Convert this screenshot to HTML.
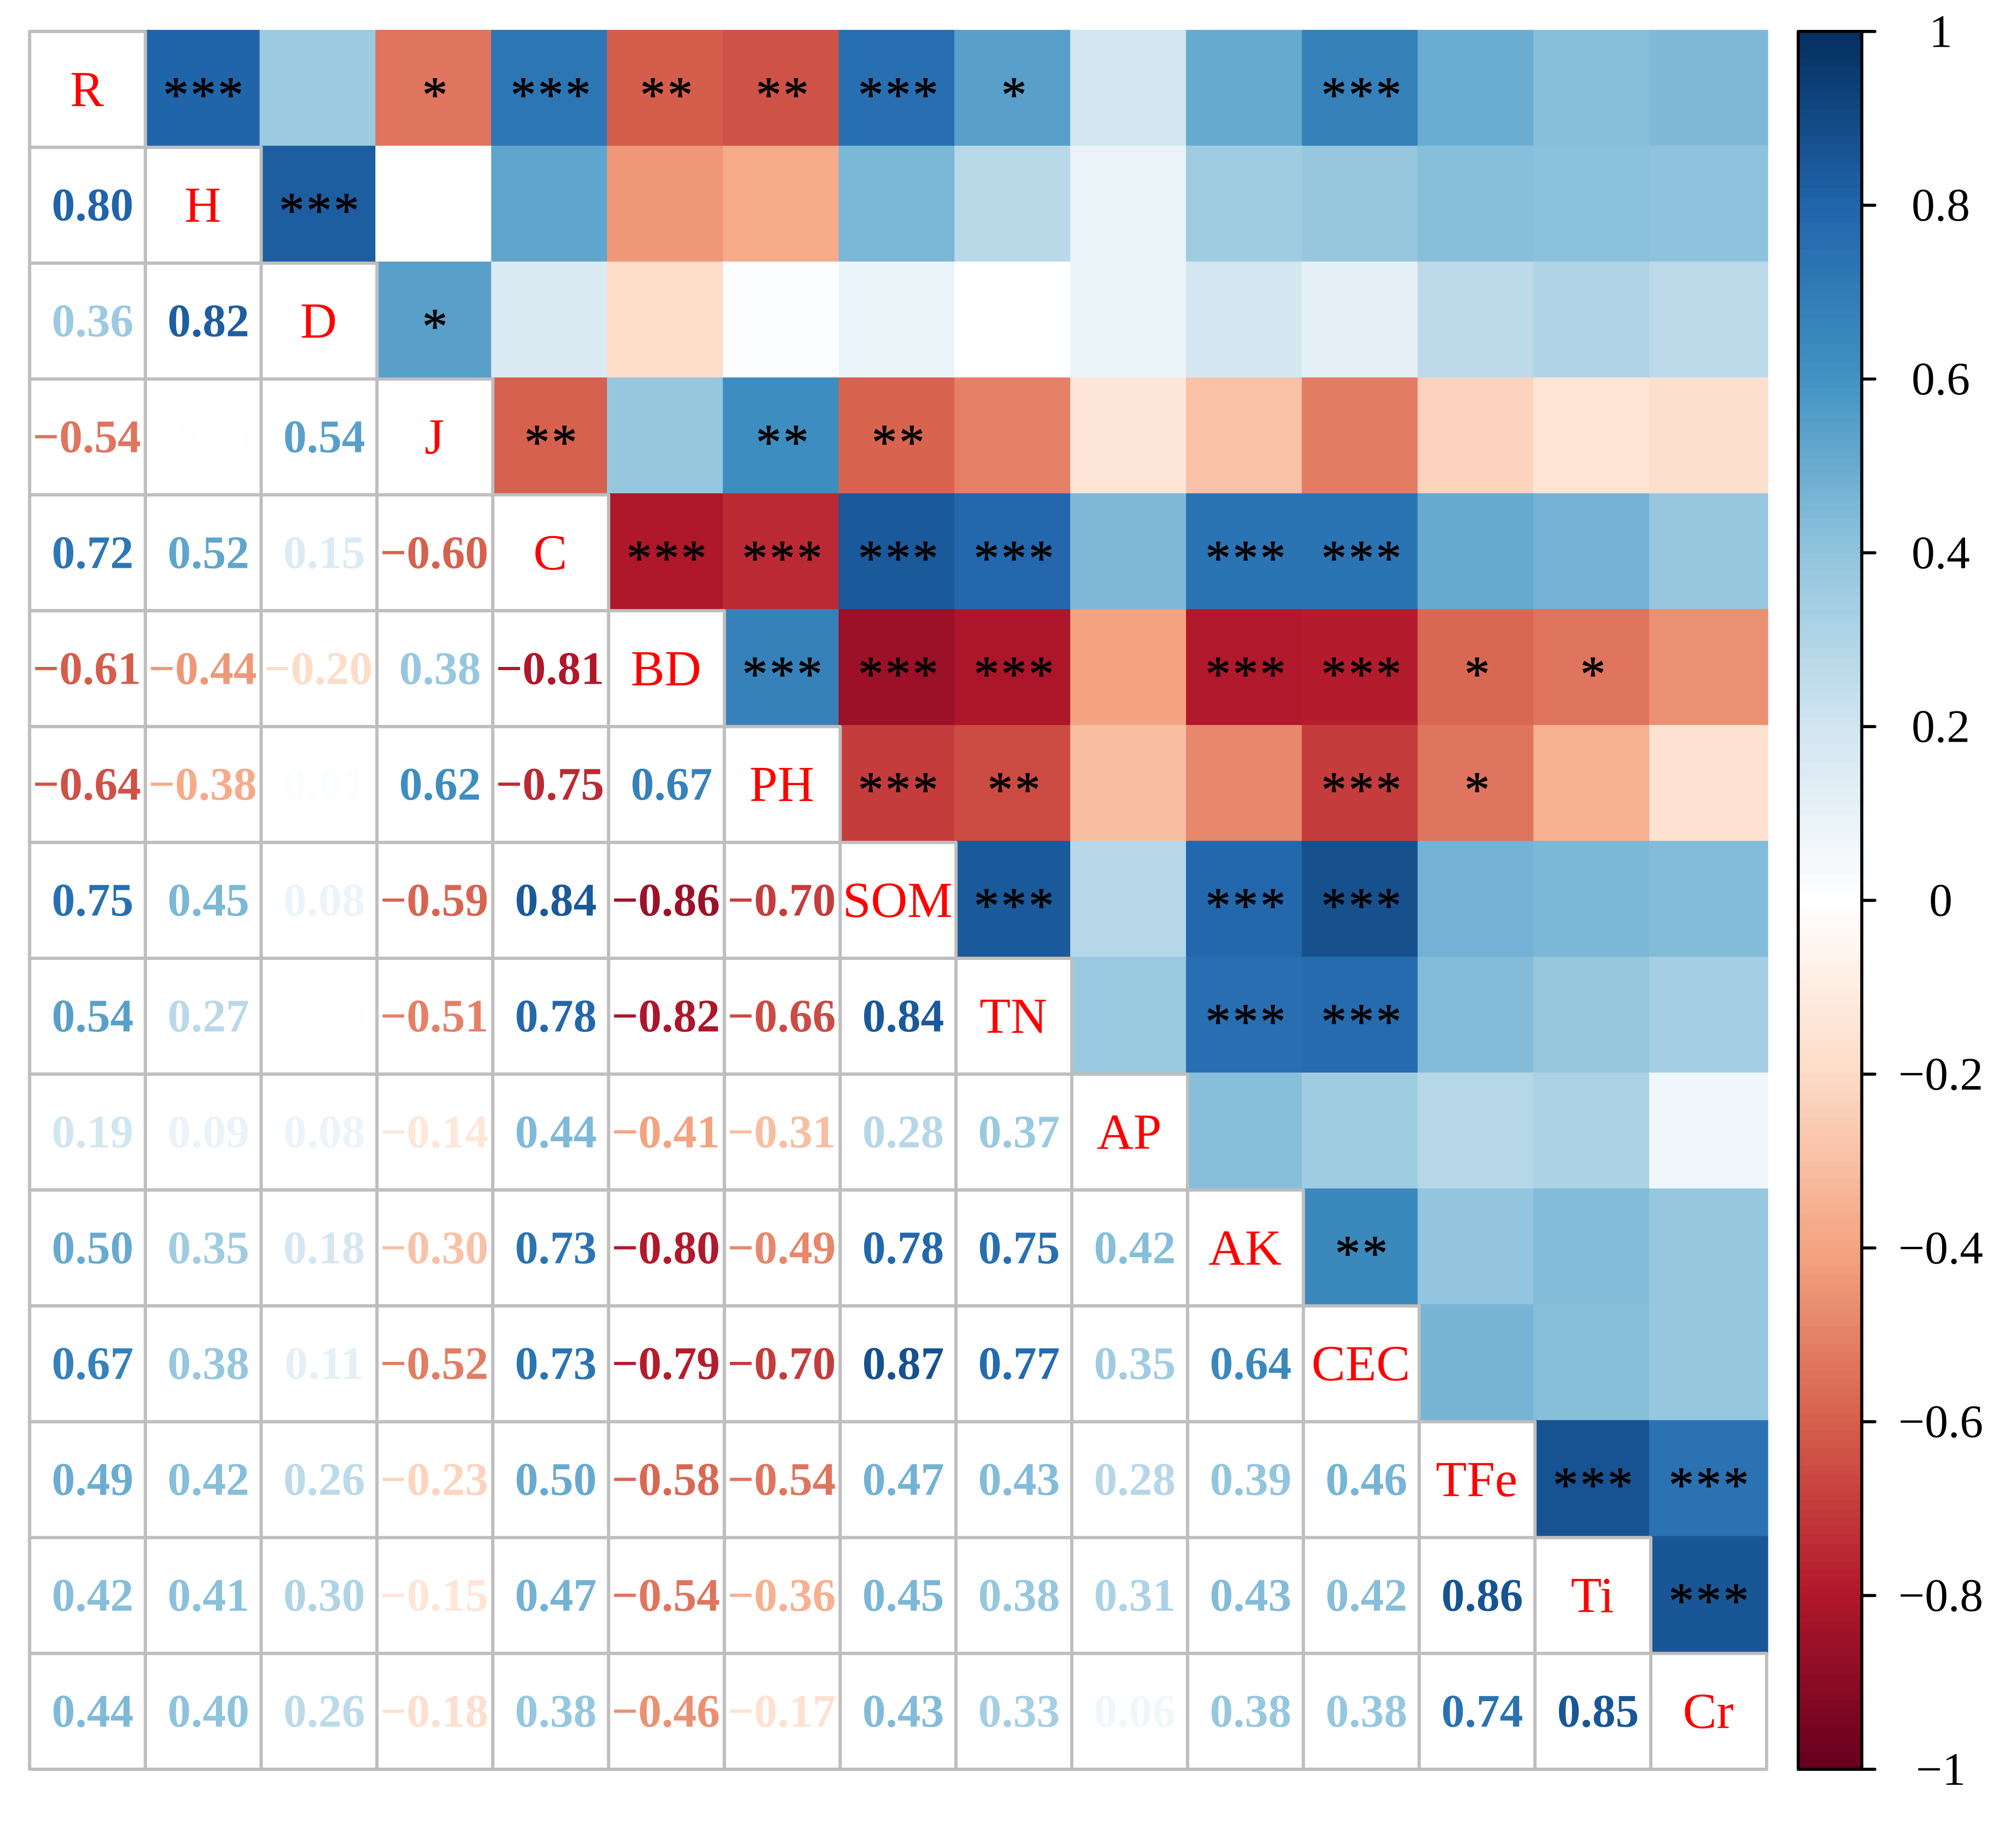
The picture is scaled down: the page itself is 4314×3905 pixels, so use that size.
<!DOCTYPE html>
<html lang="en">
<head>
<meta charset="utf-8">
<title>Correlation matrix</title>
<style>
html,body{margin:0;padding:0;background:#fff;}
svg{display:block;}
text{font-family:"Liberation Serif",serif;}
</style>
</head>
<body>
<svg id="chart" xmlns="http://www.w3.org/2000/svg" width="4314" height="3905" viewBox="0 0 4314 3905">
<rect x="0" y="0" width="4314" height="3905" fill="#ffffff"/>
<g id="fills"></g>
<g id="grid"></g>
<g id="stars"></g>
<g id="numbers"></g>
<g id="diag"></g>
<g id="legend"></g>
</svg>
<script>
const variables = ["R","H","D","J","C","BD","PH","SOM","TN","AP","AK","CEC","TFe","Ti","Cr"];
const corrRows = [
  [],
  [0.80],
  [0.36,0.82],
  [-0.54,-0.01,0.54],
  [0.72,0.52,0.15,-0.60],
  [-0.61,-0.44,-0.20,0.38,-0.81],
  [-0.64,-0.38,0.01,0.62,-0.75,0.67],
  [0.75,0.45,0.08,-0.59,0.84,-0.86,-0.70],
  [0.54,0.27,-0.01,-0.51,0.78,-0.82,-0.66,0.84],
  [0.19,0.09,0.08,-0.14,0.44,-0.41,-0.31,0.28,0.37],
  [0.50,0.35,0.18,-0.30,0.73,-0.80,-0.49,0.78,0.75,0.42],
  [0.67,0.38,0.11,-0.52,0.73,-0.79,-0.70,0.87,0.77,0.35,0.64],
  [0.49,0.42,0.26,-0.23,0.50,-0.58,-0.54,0.47,0.43,0.28,0.39,0.46],
  [0.42,0.41,0.30,-0.15,0.47,-0.54,-0.36,0.45,0.38,0.31,0.43,0.42,0.86],
  [0.44,0.40,0.26,-0.18,0.38,-0.46,-0.17,0.43,0.33,0.06,0.38,0.38,0.74,0.85]
];
const starRows = [
  [],
  [3],
  [0,3],
  [1,0,1],
  [3,0,0,2],
  [2,0,0,0,3],
  [2,0,0,2,3,3],
  [3,0,0,2,3,3,3],
  [1,0,0,0,3,3,2,3],
  [0,0,0,0,0,0,0,0,0],
  [0,0,0,0,3,3,0,3,3,0],
  [3,0,0,0,3,3,3,3,3,0,2],
  [0,0,0,0,0,1,1,0,0,0,0,0],
  [0,0,0,0,0,1,0,0,0,0,0,0,3],
  [0,0,0,0,0,0,0,0,0,0,0,0,3,3]
];
const legendTicks = [1,0.8,0.6,0.4,0.2,0,-0.2,-0.4,-0.6,-0.8,-1];
const paletteStops = ["#67001F","#B2182B","#D6604D","#F4A582","#FDDBC7","#FFFFFF","#D1E5F0","#92C5DE","#4393C3","#2166AC","#053061"];
const legendBandCount = 200;

const SVGNS = "http://www.w3.org/2000/svg";
const gridLeft = 63.3, gridTop = 67.3, cellW = 247.8, cellH = 247.9, overlap = 3.4;
const barLeft = 3848, barRight = 3984, barTop = 67.3, barBottom = 3785.8;
function xAt(i){ return gridLeft + i * cellW; }
function yAt(j){ return gridTop + j * cellH; }
function legendY(v){ return barTop + (1 - v) / 2 * (barBottom - barTop); }
function hexRgb(h){ return [parseInt(h.slice(1,3),16),parseInt(h.slice(3,5),16),parseInt(h.slice(5,7),16)]; }
function rampAt(t){
  const p = t * (paletteStops.length - 1);
  const k = Math.min(Math.floor(p), paletteStops.length - 2);
  const f = p - k;
  const a = hexRgb(paletteStops[k]), b = hexRgb(paletteStops[k + 1]);
  return "rgb(" + a.map(function(c, n){ return Math.round(c + (b[n] - c) * f); }).join(",") + ")";
}
function colorAt(v){
  const idx = Math.max(0, Math.min(legendBandCount - 1, Math.floor((v + 1) / 2 * legendBandCount + 1e-9)));
  return rampAt(idx / (legendBandCount - 1));
}
function make(tag, attrs, parent){
  const el = document.createElementNS(SVGNS, tag);
  for (const k in attrs) el.setAttribute(k, attrs[k]);
  parent.appendChild(el);
  return el;
}
const fillsG = document.getElementById("fills");
const gridG = document.getElementById("grid");
const starsG = document.getElementById("stars");
const numbersG = document.getElementById("numbers");
const diagG = document.getElementById("diag");
const legendG = document.getElementById("legend");
const n = variables.length;

// upper triangle fills, drawn in row order so later cells overlap earlier ones
for (let row = 0; row < n; row++) {
  for (let col = row + 1; col < n; col++) {
    const v = corrRows[col][row];
    const r = make("rect", {
      x: xAt(col) - overlap, y: yAt(row) - overlap,
      width: cellW + 2 * overlap, height: cellH + 2 * overlap,
      fill: colorAt(v)
    }, fillsG);
    
    
  }
}
// lower triangle + diagonal white cells
for (let row = 0; row < n; row++) {
  for (let col = 0; col <= row; col++) {
    const r = make("rect", {
      x: xAt(col), y: yAt(row), width: cellW, height: cellH,
      fill: "#ffffff", stroke: "#BEBEBE", "stroke-width": 7, "stroke-linejoin": "round"
    }, gridG);
    
    
  }
}
// stars
for (let row = 0; row < n; row++) {
  for (let col = row + 1; col < n; col++) {
    const s = starRows[col][row];
    if (!s) continue;
    const t = make("text", {
      x: xAt(col) + cellW / 2 + 2.3, y: yAt(row) + cellH / 2 + 47,
      "text-anchor": "middle", "font-size": 108, "letter-spacing": 4.6,
      fill: "#000000", stroke: "#000000", "stroke-width": 1.2
    }, starsG);
    
    
    t.textContent = "*".repeat(s);
  }
}
// numbers
for (let row = 1; row < n; row++) {
  for (let col = 0; col < row; col++) {
    const v = corrRows[row][col];
    const label = (v < 0 ? "\u2212" : "") + Math.abs(v).toFixed(2);
    const t = make("text", {
      x: xAt(col) + cellW / 2 + (v < 0 ? -1.5 : 11),
      y: yAt(row) + cellH / 2 + 32.5,
      "text-anchor": "middle", "font-size": 100, "font-weight": "bold", fill: colorAt(v)
    }, numbersG);
    
    
    t.textContent = label;
  }
}
// diagonal labels
for (let i = 0; i < n; i++) {
  const t = make("text", {
    x: xAt(i) + cellW / 2 - 1, y: yAt(i) + cellH / 2 + 35.5,
    "text-anchor": "middle", "font-size": 108.5, fill: "#FF0000"
  }, diagG);
  
  
  t.textContent = variables[i];
}
// legend bands
const bandH = (barBottom - barTop) / legendBandCount;
for (let b = 0; b < legendBandCount; b++) {
  const r = make("rect", {
    x: barLeft, y: barBottom - (b + 1) * bandH,
    width: barRight - barLeft, height: bandH + 0.6,
    fill: rampAt(b / (legendBandCount - 1))
  }, legendG);
  
  
}
const frame = make("rect", {
  x: barLeft, y: barTop, width: barRight - barLeft, height: barBottom - barTop,
  fill: "none", stroke: "#000000", "stroke-width": 6.6, "stroke-linejoin": "round"
}, legendG);


legendTicks.forEach(function(v){
  const y = legendY(v);
  const tick = make("line", {
    x1: barRight, x2: 4012, y1: y, y2: y,
    stroke: "#000000", "stroke-width": 6.6, "stroke-linecap": "round"
  }, legendG);
  
  
  const t = make("text", {
    x: 4153, y: y + 33, "text-anchor": "middle", "font-size": 100, fill: "#000000"
  }, legendG);
  
  
  t.textContent = (v < 0 ? "\u2212" : "") + String(Math.abs(v));
});
</script>
</body>
</html>
